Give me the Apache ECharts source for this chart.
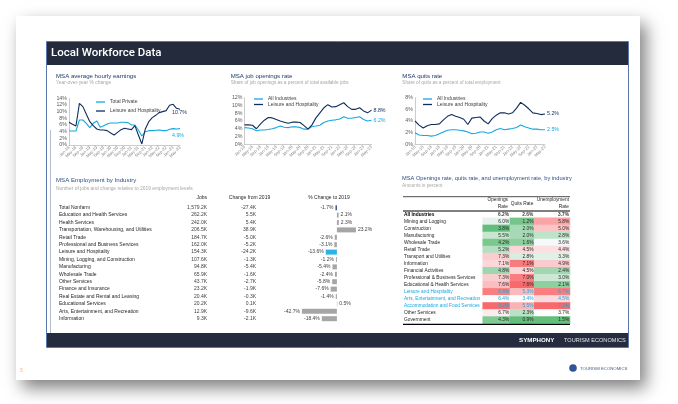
<!DOCTYPE html>
<html><head><meta charset="utf-8">
<script src="https://cdn.jsdelivr.net/npm/echarts@6.0.0/dist/echarts.min.js"></script>
<style>html,body{margin:0;padding:0;background:#fff}#c{width:678px;height:404px}</style>
</head><body><div id="c"></div>
<script>
// ---------- DATA ----------
const monthLabels = ['Jan-18','Mar-18','May-18','Jul-18','Sep-18','Nov-18','Jan-19','Mar-19','May-19','Jul-19','Sep-19','Nov-19','Jan-20','Mar-20','May-20','Jul-20','Sep-20','Nov-20','Jan-21','Mar-21','May-21','Jul-21','Sep-21','Nov-21','Jan-22','Mar-22','May-22','Jul-22','Sep-22','Nov-22','Jan-23','Mar-23','May-23'];

const earningsTotalPrivate = [4.2,4.2,4.2,7.5,7.5,6.5,5.2,6.5,7.2,5.3,5.8,6.3,6.6,6.6,6.6,6.8,6.8,6.7,6.0,6.0,4.5,2.7,4.0,4.3,4.3,4.4,4.5,4.3,4.3,4.7,4.9,4.8,4.9];
const earningsLeisure = [6.8,6.2,5.7,12.5,11.5,9.2,7.0,5.8,4.8,4.5,4.5,4.3,3.6,3.0,3.8,4.6,5.0,4.8,4.6,5.8,3.0,0.3,4.8,7.0,8.2,8.9,9.7,10.0,10.3,11.9,12.2,11.0,10.7];

const openingsAll = [4.3,4.2,4.0,3.5,3.7,3.7,3.8,4.0,4.3,4.7,4.4,4.3,4.5,4.5,4.3,3.9,3.9,4.6,4.7,4.9,5.6,6.0,6.2,6.3,6.5,7.1,6.7,6.7,6.9,7.1,6.4,6.0,6.2];
const openingsLeisure = [5.0,5.0,4.9,4.0,5.2,6.2,6.9,6.8,6.4,6.0,5.7,5.4,5.7,5.7,5.6,4.8,3.9,5.0,6.8,8.1,9.4,10.2,9.6,9.7,10.2,10.7,9.7,9.0,9.0,9.4,8.6,8.1,8.8];

const quitsAll = [2.0,1.6,1.5,1.5,1.4,1.5,1.8,2.1,2.4,2.5,2.5,2.4,2.3,2.1,1.8,1.9,2.1,2.1,1.9,2.1,2.5,2.7,2.5,2.6,2.7,2.9,3.3,3.0,2.8,2.6,2.6,2.5,2.5];
const quitsLeisure = [4.0,3.3,2.8,3.2,3.4,3.4,3.5,4.2,4.8,5.1,4.8,4.6,4.3,3.4,4.5,4.6,4.7,4.0,3.5,4.4,5.0,5.4,5.4,5.2,5.4,6.2,7.2,6.7,6.1,5.4,5.3,5.1,5.2];

const industries = ['Total Nonfarm','Education and Health Services','Health Services','Transportation, Warehousing, and Utilities','Retail Trade','Professional and Business Services','Leisure and Hospitality','Mining, Logging, and Construction','Manufacturing','Wholesale Trade','Other Services','Finance and Insurance','Real Estate and Rental and Leasing','Educational Services','Arts, Entertainment, and Recreation','Information'];
const jobsK = [1579.2,262.2,242.0,206.5,184.7,162.0,154.3,107.6,94.8,65.9,43.7,23.2,20.4,20.2,12.9,9.3];
const changeK = [-27.4,5.5,5.4,38.9,-5.0,-5.2,-24.2,-1.3,-5.4,-1.6,-2.7,-1.9,-0.3,0.1,-9.6,-2.1];
const pctChange = [-1.7,2.1,2.3,23.2,-2.6,-3.1,-13.6,-1.2,-5.4,-2.4,-5.8,-7.6,-1.4,0.5,-42.7,-18.4];

const rateRows = ['All Industries','Mining and Logging','Construction','Manufacturing','Wholesale Trade','Retail Trade','Transport and Utilities','Information','Financial Activities','Professional & Business Services','Educational & Health Services','Leisure and Hospitality','Arts, Entertainment, and Recreation','Accommodation and Food Services','Other Services','Government'];
const openingsRate = [6.2,6.0,3.8,5.5,4.2,5.2,7.3,7.1,4.8,7.3,7.6,8.8,6.4,9.2,6.7,4.3];
const quitsRate = [2.6,1.2,2.0,2.0,1.6,4.5,2.8,7.1,4.5,7.0,7.6,5.3,3.4,5.5,2.3,0.9];
const unempRate = [3.7,5.8,5.0,2.8,3.6,4.4,3.3,4.9,2.4,3.0,2.1,6.7,4.5,7.2,3.7,1.5];

// ---------- STYLE ----------
const FONT = 'Liberation Sans, Arial, sans-serif';
const NAVY = '#112d5e';
const LBLUE = '#14a8e0';
const TITLE = '#1f3864';
const SUB = '#a6a6a6';
const highlightRows = [11,12,13];

function txt(text, x, y, size, color, extra) {
  return {type:'text', x:x, y:y, z:100, silent:true,
    style: Object.assign({text:text, fontSize:size, fill:color, fontFamily:FONT, align:'left', verticalAlign:'middle'}, extra||{})};
}
function line(x1,y1,x2,y2,color,w){ return {type:'line', z:100, silent:true, shape:{x1:x1,y1:y1,x2:x2,y2:y2}, style:{stroke:color, lineWidth:w}}; }

// Excel-like 3 colour scale: min green, median white, max red
function scaleColor(v, arr) {
  const s = arr.slice().sort((a,b)=>a-b);
  const min = s[0], max = s[s.length-1], mid = s[Math.floor(s.length/2)];
  const G=[99,190,123], W=[252,252,255], R=[248,105,107];
  let a,b,t;
  if (v <= mid) { a=G; b=W; t = mid===min?1:(v-min)/(mid-min); }
  else { a=W; b=R; t = max===mid?1:(v-mid)/(max-mid); }
  const c = a.map((x,i)=>Math.round(x+(b[i]-x)*t));
  return 'rgb('+c.join(',')+')';
}

// ---------- LINE CHARTS ----------
const lineGrids = [
  {left:69, top:98.3, width:111, height:46.7},
  {left:244.5, top:97.7, width:127, height:46.6},
  {left:415, top:97.7, width:130, height:46.6}
];
const yMax = [14,12,8];

function lineXAxis(gi){
  return {gridIndex:gi, type:'category', data:monthLabels, boundaryGap:false,
    axisLine:{lineStyle:{color:'#bfbfbf', width:0.8}}, axisTick:{show:false},
    axisLabel:{rotate:45, fontSize:4.2, color:'#808080', interval:1, margin:2, fontFamily:FONT}};
}
function lineYAxis(gi){
  return {gridIndex:gi, type:'value', min:0, max:yMax[gi], interval:2,
    axisLine:{show:true, lineStyle:{color:'#bfbfbf', width:0.8}}, axisTick:{show:false}, splitLine:{show:false},
    axisLabel:{fontSize:5.3, color:'#595959', margin:2, fontFamily:FONT, formatter:'{value}%'}};
}
function lineSeries(name, gi, data, color, offset){
  return {type:'line', name:name, xAxisIndex:gi, yAxisIndex:gi, data:data, symbol:'none',
    lineStyle:{color:color, width:1.1}, itemStyle:{color:color}, z:5,
    endLabel:{show:true, formatter:p=>p.value.toFixed(1)+'%', fontSize:5.3, color:color, fontFamily:FONT, distance:2, offset:offset||[0,0]}};
}

// ---------- EMPLOYMENT TABLE (bars) ----------
const empGrid = {left:300, top:204, width:57.4, height:118.4};
const barColors = industries.map((n,i)=> i===0 ? '#2e4f86' : (n==='Leisure and Hospitality' ? '#2ab4e6' : '#a6a6a6'));

// ---------- HEATMAP TABLE ----------
const hmTop = 210.8, hmH = 112.8;
const hmCols = [
  {left:482.7, width:27.3, data:openingsRate},
  {left:510, width:24.3, data:quitsRate},
  {left:534.3, width:35.7, data:unempRate}
];

const grids = lineGrids.concat([empGrid]).concat(hmCols.map(c=>({left:c.left, top:hmTop, width:c.width, height:hmH})));

const xAxes = [lineXAxis(0), lineXAxis(1), lineXAxis(2),
  {gridIndex:3, type:'value', min:-45, max:25, show:false}
].concat(hmCols.map((c,k)=>({gridIndex:4+k, type:'category', data:['c'+k], show:false})));

function tableAxis(align, margin, color, formatter){
  return {gridIndex:3, type:'category', position:'left', offset:0, inverse:true, data:industries,
    axisLine:{show:false, onZero:false}, axisTick:{show:false},
    axisLabel:{align:align, margin:margin, fontSize:5, color:color, fontFamily:FONT, interval:0, formatter:formatter}};
}

const yAxes = [lineYAxis(0), lineYAxis(1), lineYAxis(2),
  tableAxis('left', 241, '#262626', v=>v),
  tableAxis('right', 93, '#404040', (v,i)=>jobsK[i].toLocaleString('en-US',{minimumFractionDigits:1,maximumFractionDigits:1})+'K'),
  tableAxis('right', 44, '#404040', (v,i)=>changeK[i].toFixed(1)+'K')
].concat(hmCols.map((c,k)=>({gridIndex:4+k, type:'category', position:'left', inverse:true, data:rateRows,
    axisLine:{show:false}, axisTick:{show:false},
    axisLabel: k===0 ? {show:true, align:'left', margin:78.7, interval:0, fontFamily:FONT, fontSize:4.8,
      formatter:(v,i)=> i===0 ? '{b|'+v+'}' : (highlightRows.indexOf(i)>=0 ? '{h|'+v+'}' : '{n|'+v+'}'),
      rich:{b:{fontWeight:'bold', fontSize:4.8, color:'#000', fontFamily:FONT}, h:{fontSize:4.8, color:LBLUE, fontFamily:FONT}, n:{fontSize:4.8, color:'#262626', fontFamily:FONT}}}
      : {show:false}})));

const series = [
  lineSeries('Total Private', 0, earningsTotalPrivate, LBLUE, [-10,7]),
  lineSeries('Leisure and Hospitality', 0, earningsLeisure, NAVY, [-10,3]),
  lineSeries('All Industries', 1, openingsAll, LBLUE),
  lineSeries('Leisure and Hospitality', 1, openingsLeisure, NAVY),
  lineSeries('All Industries', 2, quitsAll, LBLUE),
  lineSeries('Leisure and Hospitality', 2, quitsLeisure, NAVY),
  {type:'bar', xAxisIndex:3, yAxisIndex:3, barWidth:5, z:5,
    data: pctChange.map((v,i)=>({value:v, itemStyle:{color:barColors[i]}, label:{position: v<0?'left':'right'}})),
    label:{show:true, fontSize:5, color:'#404040', distance:2, fontFamily:FONT, formatter:p=>p.value.toFixed(1)+'%'}}
];
hmCols.forEach((c,k)=>{
  const vals = c.data.slice(1);
  series.push({type:'heatmap', xAxisIndex:4+k, yAxisIndex:6+k, z:5,
    data: c.data.map((v,i)=>i===0?null:({value:[0,i,v], itemStyle:{color:scaleColor(v, vals)},
      label:{color: highlightRows.indexOf(i)>=0 ? LBLUE : '#262626'}})).filter(d=>d),
    label:{show:true, position:'insideRight', distance:1, fontSize:4.8, fontFamily:FONT, formatter:p=>p.value[2].toFixed(1)+'%'}});
  series.push({type:'scatter', xAxisIndex:4+k, yAxisIndex:6+k, z:5, symbol:'rect', symbolSize:[c.width, 6],
    itemStyle:{color:'rgba(0,0,0,0)'}, data:[[0,0,c.data[0]]],
    label:{show:true, position:'insideRight', distance:1, fontSize:4.8, fontWeight:'bold', color:'#000', fontFamily:FONT, formatter:p=>p.value[2].toFixed(1)+'%'}});
});

const legendBase = {orient:'vertical', icon:'rect', itemWidth:9, itemHeight:1.3, padding:0,
  textStyle:{fontSize:5, color:'#404040', fontFamily:FONT, lineHeight:5}, selectedMode:false};
const legends = [
  Object.assign({}, legendBase, {left:96, top:99.5, itemGap:4, data:['Total Private','Leisure and Hospitality']}),
  Object.assign({}, legendBase, {left:254, top:96.5, itemGap:0.5, data:['All Industries','Leisure and Hospitality']}),
  Object.assign({}, legendBase, {left:423, top:96.5, itemGap:0.5, data:['All Industries','Leisure and Hospitality']})
];

const graphics = [
  {type:'rect', z:-10, silent:true, shape:{x:16,y:16,width:624,height:364}, style:{fill:'#fff', shadowBlur:16, shadowColor:'rgba(0,0,0,0.5)', shadowOffsetX:6, shadowOffsetY:8}},
  {type:'rect', z:-5, silent:true, shape:{x:47,y:42,width:581,height:23}, style:{fill:'#232b3d'}},
  {type:'rect', z:-5, silent:true, shape:{x:47,y:333,width:581,height:14}, style:{fill:'#252c3f'}},
  {type:'rect', z:-4, silent:true, shape:{x:46.5,y:41.5,width:582,height:306}, style:{fill:'none', stroke:'#2e5596', lineWidth:0.8}},
  line(50.5,130,50.5,333,'#7d8fb5',0.6),
  txt('Local Workforce Data', 51, 53.5, 11.5, '#ffffff', {fontFamily:'Roboto, sans-serif', fontWeight:500}),
  txt('SYMPHONY', 519, 340.5, 6.2, '#ffffff', {fontWeight:'bold'}),
  txt('TOURISM ECONOMICS', 564, 340.5, 5.6, '#e6e6e6'),
  txt('5', 20, 371, 5, '#f4b183'),
  {type:'circle', z:100, silent:true, shape:{cx:573, cy:368, r:3.8}, style:{fill:'#2f5597'}},
  txt('TOURISM ECONOMICS', 580, 368.5, 4.3, '#4a5b7a'),

  txt('MSA average hourly earnings', 56, 76.7, 6.1, TITLE, {fontWeight:500}),
  txt('Year-over-year % change', 56, 82.9, 4.9, SUB),
  txt('MSA job openings rate', 230.7, 76.7, 6.1, TITLE, {fontWeight:500}),
  txt('Share of job openings as a percent of total available jobs', 230.7, 83.2, 4.7, SUB),
  txt('MSA quits rate', 402.3, 76.7, 6.1, TITLE, {fontWeight:500}),
  txt('Share of quits as a percent of total employment', 402.3, 83.2, 4.7, SUB),

  txt('MSA Employment by Industry', 56, 180.7, 6.1, '#2f4e86', {fontWeight:500}),
  txt('Number of jobs and change relative to 2019 employment levels', 56, 189, 4.9, SUB),
  txt('Jobs', 207, 198, 5, '#262626', {align:'right'}),
  txt('Change from 2019', 249.5, 198, 5, '#262626', {align:'center'}),
  txt('% Change to 2019', 329, 198, 5, '#262626', {align:'center'}),

  txt('MSA Openings rate, quits rate, and unemployment rate, by industry', 402, 178, 5.7, '#2f4e86', {fontWeight:500}),
  txt('Amounts in percent', 402, 186, 4.7, SUB),
  line(403,196.7,570,196.7,'#000',0.7),
  line(403,211,570,211,'#000',1.2),
  line(403,324.3,570,324.3,'#000',1.2),
  txt('Openings', 508, 199.3, 4.8, '#262626', {align:'right'}),
  txt('Rate', 508, 206.8, 4.8, '#262626', {align:'right'}),
  txt('Quits Rate', 522, 203.3, 4.8, '#262626', {align:'center'}),
  txt('Unemployment', 569, 199.3, 4.8, '#262626', {align:'right'}),
  txt('Rate', 569, 206.8, 4.8, '#262626', {align:'right'})
];

const chart = echarts.init(document.getElementById('c'), null, {width:678, height:404});
chart.setOption({
  animation:false,
  backgroundColor:'#ffffff',
  grid: grids,
  xAxis: xAxes,
  yAxis: yAxes,
  legend: legends,
  series: series,
  graphic: graphics
});
</script></body></html>
